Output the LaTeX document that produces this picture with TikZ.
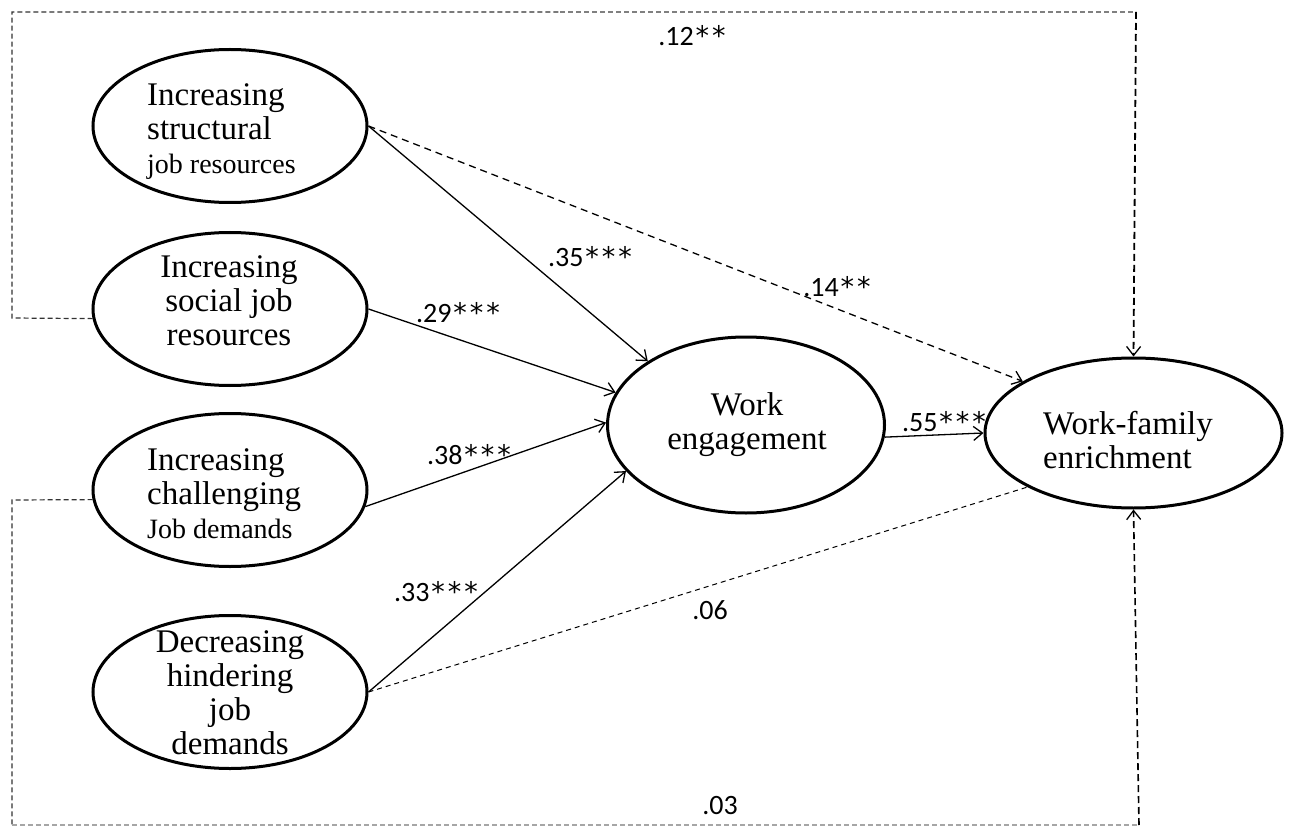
\documentclass[tikz,border=0pt]{standalone}
\usepackage{fontspec}
\setmainfont{Liberation Serif}
\newfontfamily\lblfont{Carlito}
\newfontfamily\astfont{DejaVu Sans}
\newcommand\onestar{{\astfont\fontsize{27}{27}\selectfont *}}
\newcommand\twostars{\kern2pt\onestar\kern3pt\onestar}
\newcommand\threestars{\kern2pt\onestar\kern3pt\onestar\kern3pt\onestar}
\usetikzlibrary{shapes.geometric,arrows.meta}
\tikzset{
  x=1pt,y=-1pt,
  lat/.style={ellipse, draw, line width=3pt, inner sep=0pt,
    minimum width=274pt, minimum height=153pt},
  lattext/.style={inner sep=0pt, font=\fontsize{33}{34}\selectfont},
  coef/.style={font=\lblfont\fontsize{28}{30}\selectfont, inner sep=0pt},
  path/.style={line width=1.3pt, -{Straight Barb[length=9pt,width=14pt,line width=1.3pt]}},
  dpath/.style={line width=1.3pt, dash pattern=on 7pt off 5pt, -{Straight Barb[length=9pt,width=14pt,line width=1.3pt]}},
  box/.style={line width=1.2pt, dash pattern=on 5pt off 3pt},
}
\begin{document}
\begin{tikzpicture}
\useasboundingbox (0,0) rectangle (1290,826);
% latent variables
\node[lat] (s1) at (230,126) {};
\node[lat] (s2) at (230,309) {};
\node[lat] (s3) at (230,490) {};
\node[lat] (s4) at (230,692) {};
\node[lat, minimum width=277pt, minimum height=176pt] (we) at (746,425) {};
\node[lat, minimum width=297pt, minimum height=150pt] (wfe) at (1133.5,433) {};

\node[lattext, align=left, anchor=west] (t1) at (147,132) {Increasing\\structural\\{\fontsize{28}{30}\selectfont job resources}};
\node[lattext, align=center] (t2) at (229,301) {Increasing\\social job\\resources};
\node[lattext, align=left, anchor=west] (t3) at (147,494) {Increasing\\challenging\\{\fontsize{28}{30}\selectfont Job demands}};
\node[lattext, align=center, font=\fontsize{33}{34}\selectfont] (t4) at (230,693) {Decreasing\\hindering\\job\\demands};
\node[lattext, align=center] (t5) at (747,425) {Work\\engagement};
\node[lattext, align=left, anchor=west] (t6) at (1043,440) {Work-family\\enrichment};

% paths to work engagement
\draw[path] (s1.east) -- (we.147);
\draw[path] (s2.east) -- (we.166);
\draw[path] (s3.353) -- (we.179);
\draw[path] (s4.east) -- (we.201);
\draw[path] (we.355) -- (wfe.west);
% direct paths
\draw[dpath] (s1.east) -- (wfe.155);
\draw[line width=1pt, dash pattern=on 5pt off 4pt] (s4.east) -- (wfe.207);

% dashed box connectors
\coordinate (tl) at (12,12);
\coordinate (tm) at (560,12);
\coordinate (tr) at (1136,12);
\draw[box, black!80] (s2.184) -- (12,318) -- (tl) -- (tm);
\draw[box, black!50] (tm) -- (tr);
\draw[box, line width=1.8pt, dash pattern=on 7pt off 4pt, -{Straight Barb[length=9pt,width=14pt,line width=1.3pt]}] (tr) -- (wfe.north);
\coordinate (bl) at (12,825);
\coordinate (br) at (1139,825);
\draw[box, black!80] (s3.184) -- (12,500) -- (bl);
\draw[box, black!35] (bl) -- (br);
\draw[box, line width=1.6pt, dash pattern=on 7pt off 4pt, -{Straight Barb[length=9pt,width=14pt,line width=1.3pt]}] (br) -- (wfe.south);

% coefficients
\node[coef] (c12) at (692,36) {.12\twostars};
\node[coef] (c35) at (590,257) {.35\threestars};
\node[coef] (c29) at (458,313) {.29\threestars};
\node[coef] (c14) at (837,287) {.14\twostars};
\node[coef] (c38) at (469,455) {.38\threestars};
\node[coef] (c55) at (944,422) {.55\threestars};
\node[coef] (c33) at (436,592) {.33\threestars};
\node[coef] (c06) at (710,610) {.06};
\node[coef] (c03) at (720,806) {.03};
\end{tikzpicture}
\end{document}
